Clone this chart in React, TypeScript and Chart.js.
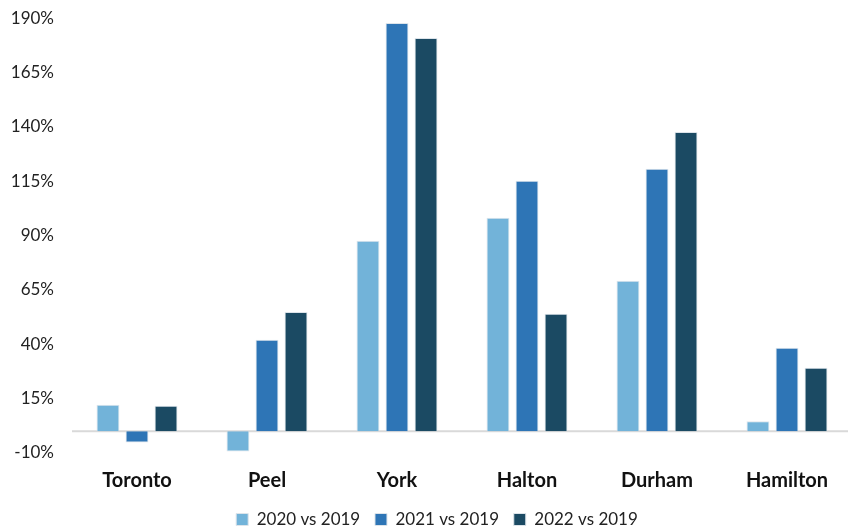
import React, { useEffect, useRef } from "react";
import { Chart, registerables } from "chart.js";

Chart.register(...registerables);

const categories = ["Toronto", "Peel", "York", "Halton", "Durham", "Hamilton"];
const s2020 = [12.2, -9.3, 87.6, 98.2, 69.2, 4.6];
const s2021 = [-5.2, 42.1, 187.8, 115.2, 120.7, 38.4];
const s2022 = [11.7, 54.9, 180.9, 54.0, 137.7, 29.2];
const seriesNames = ["2020 vs 2019", "2021 vs 2019", "2022 vs 2019"];
const yMin = -10;
const yMax = 190;
const yStep = 25;

const FONT = "Lato";

const zeroLine = {
  id: "zeroLine",
  beforeDatasetsDraw(chart: any) {
    const y = chart.scales.y.getPixelForValue(0);
    const { left, right } = chart.chartArea;
    const ctx = chart.ctx;
    ctx.save();
    ctx.strokeStyle = "#d9d9d9";
    ctx.lineWidth = 2;
    ctx.beginPath();
    ctx.moveTo(left, y);
    ctx.lineTo(right, y);
    ctx.stroke();
    ctx.restore();
  },
};

const legendShift = {
  id: "legendShift",
  afterLayout(chart: any) {
    const lg = chart.legend;
    if (lg) {
      lg.left += 11;
      lg.right += 11;
    }
  },
};

export default function App() {
  const ref = useRef<HTMLCanvasElement>(null);
  useEffect(() => {
    document.body.style.margin = "0";
    const colors = ["#72b3d9", "#2e75b6", "#1b4a63"];
    const data = [s2020, s2021, s2022];
    const chart = new Chart(ref.current!, {
      type: "bar",
      data: {
        labels: categories,
        datasets: data.map((d, i) => ({
          label: seriesNames[i],
          data: d,
          backgroundColor: colors[i],
          borderColor: "#dde4ea",
          borderWidth: 1,
          barPercentage: 0.79,
          categoryPercentage: 0.67,
        })),
      },
      options: {
        animation: false,
        responsive: true,
        maintainAspectRatio: false,
        layout: { padding: { top: 0, right: 22, bottom: 0, left: 0 } },
        plugins: {
          tooltip: { enabled: false },
          legend: {
            position: "bottom",
            labels: {
              boxWidth: 12,
              boxHeight: 12,
              padding: 2,
              color: "#222",
              font: { family: FONT, size: 17 },
              generateLabels(chart: any) {
                const items = Chart.defaults.plugins.legend.labels.generateLabels(chart);
                return items.map((it: any, i: number) => ({
                  ...it,
                  text: i < items.length - 1 ? it.text + "\u2003" : it.text,
                }));
              },
            },
          },
        },
        scales: {
          x: {
            grid: { display: false, drawTicks: false },
            border: { display: false },
            ticks: {
              color: "#111",
              padding: 16,
              font: { family: FONT, size: 20, weight: "bold" },
            },
          },
          y: {
            min: yMin,
            max: yMax,
            grid: { display: false, drawTicks: false },
            border: { display: false },
            afterFit(scale: any) {
              scale.width = 72;
            },
            ticks: {
              stepSize: yStep,
              padding: 18,
              color: "#222",
              font: { family: FONT, size: 17 },
              callback: (v: any) => v + "%",
            },
          },
        },
      },
      plugins: [zeroLine, legendShift],
    });
    return () => chart.destroy();
  }, []);
  return (
    <div style={{ position: "fixed", left: 0, top: 0, width: 848, height: 530, overflow: "hidden" }}>
      <div style={{ position: "absolute", left: 0, top: -10, width: 874, height: 548 }}>
        <canvas ref={ref} />
      </div>
    </div>
  );
}
